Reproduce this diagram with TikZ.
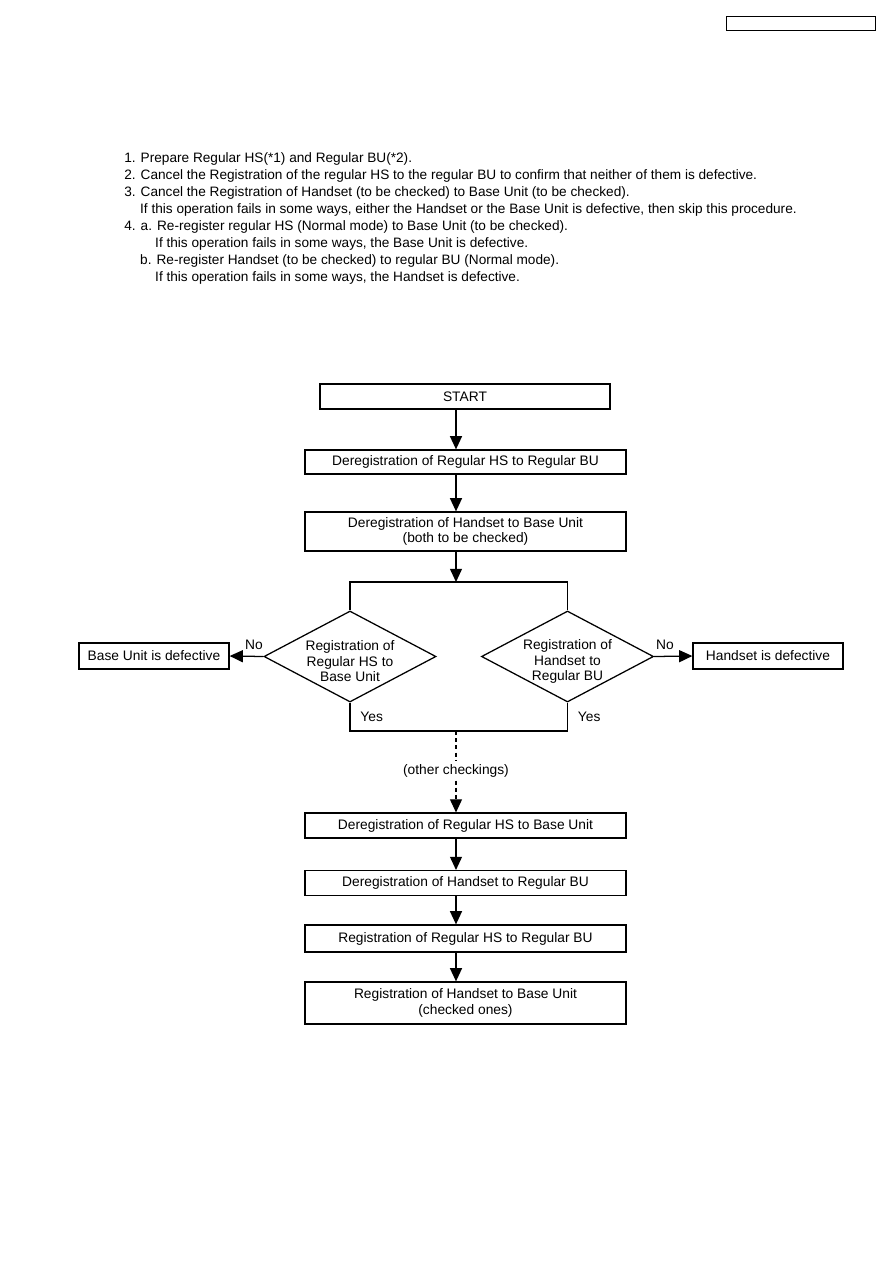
\documentclass[tikz,border=0pt]{standalone}
\usepackage{fontspec}
\setmainfont{Liberation Sans}
\usetikzlibrary{arrows.meta,positioning,shapes.geometric}
\tikzset{
  flowBox/.style={draw, line width=0.9pt, align=center, inner sep=0pt, minimum width=8.025cm, minimum height=0.62cm, font=\fontsize{9.8}{10.8}\selectfont},
  endBox/.style={flowBox, minimum width=3.75cm, minimum height=0.65cm},
  checkDiamond/.style={draw, line width=0.9pt, shape=diamond, aspect=1.9, inner xsep=0pt, inner ysep=-0.125cm, minimum width=4.3cm, minimum height=2.275cm, align=center, font=\fontsize{9.8}{11}\selectfont},
  flowArrow/.style={-{Triangle[length=3.3mm, width=3mm]}, line width=0.9pt},
  flowLine/.style={line width=0.9pt},
  flowLabel/.style={font=\fontsize{9.8}{11}\selectfont, inner sep=2pt}
}
\begin{document}
\begin{tikzpicture}[x=0.025cm, y=-0.025cm]
  \useasboundingbox (0,0) rectangle (893,1263);
  \node[draw, line width=0.7pt, minimum width=3.7cm, minimum height=0.35cm, inner sep=0pt] (pageTag) at (801,23) {};
  \node[anchor=north west, inner sep=0pt, align=left, font=\fontsize{9.7}{12.1}\selectfont] (steps) at (124,152)
    {1. Prepare Regular HS(*1) and Regular BU(*2).\\
     2. Cancel the Registration of the regular HS to the regular BU to confirm that neither of them is defective.\\
     3. Cancel the Registration of Handset (to be checked) to Base Unit (to be checked).\\
     \hspace*{11.3pt}If this operation fails in some ways, either the Handset or the Base Unit is defective, then skip this procedure.\\
     4. a. Re-register regular HS (Normal mode) to Base Unit (to be checked).\\
     \hspace*{22pt}If this operation fails in some ways, the Base Unit is defective.\\
     \hspace*{11.3pt}b. Re-register Handset (to be checked) to regular BU (Normal mode).\\
     \hspace*{22pt}If this operation fails in some ways, the Handset is defective.};
  % main column
  \coordinate (axis) at (456,0);
  \node[flowBox, minimum width=7.25cm] (start) at (465,396.5) {START};
  \node[flowBox, minimum height=0.6cm] (deregHSBU) at (465.5,462) {Deregistration of Regular HS to Regular BU};
  \node[flowBox, minimum height=0.975cm] (deregHandBase) at (465.5,531.5) {Deregistration of Handset to Base Unit\\(both to be checked)};
  \node[checkDiamond] (regHS) at (350,656.5) {\rule{0pt}{0.5cm}Registration of\\Regular HS to\\Base Unit};
  \node[checkDiamond] (regHand) at (567.5,656.5) {\rule{0pt}{0.5cm}Registration of\\Handset to\\Regular BU};
  \node[endBox] (baseBad) at (154,656) {Base Unit is defective};
  \node[endBox] (handBad) at (768,656) {Handset is defective};
  \node[flowLabel] (other) at (456,771) {(other checkings)};
  \node[flowBox] (deregHSBase) at (465.5,825.5) {Deregistration of Regular HS to Base Unit};
  \node[flowBox] (deregHandBU) at (465.5,883) {Deregistration of Handset to Regular BU};
  \node[flowBox, minimum height=0.675cm] (regHSBU) at (465.5,938.5) {Registration of Regular HS to Regular BU};
  \node[flowBox, minimum height=1.05cm] (regHandBase) at (465.5,1003) {Registration of Handset to Base Unit\\(checked ones)};
  \coordinate (splitL) at (350,582);
  \coordinate (splitR) at (567.5,582);
  \coordinate (joinL) at (350,731);
  \coordinate (joinR) at (567.5,731);
  % connectors
  \draw[flowArrow] (start.south -| axis) -- (deregHSBU.north -| axis);
  \draw[flowArrow] (deregHSBU.south -| axis) -- (deregHandBase.north -| axis);
  \draw[flowArrow] (deregHandBase.south -| axis) -- (splitL -| axis);
  \draw[flowLine] (regHS.north) -- (splitL) -- (splitR) -- (regHand.north);
  \draw[flowArrow] (regHS.west) -- node[flowLabel, pos=0.28, above, yshift=2pt] {No} (baseBad.east);
  \draw[flowArrow] (regHand.east) -- node[flowLabel, pos=0.28, above, yshift=2pt] {No} (handBad.west);
  \draw[flowLine] (regHS.south) -- node[flowLabel, right, xshift=5pt] {Yes} (joinL) -- (joinR)
    -- node[flowLabel, right, xshift=5pt] {Yes} (regHand.south);
  \draw[flowLine, dash pattern=on 1mm off 0.8mm] (joinL -| axis) -- (other.north);
  \draw[flowArrow, dash pattern=on 1mm off 0.8mm] (other.south) -- (deregHSBase.north -| axis);
  \draw[flowArrow] (deregHSBase.south -| axis) -- (deregHandBU.north -| axis);
  \draw[flowArrow] (deregHandBU.south -| axis) -- (regHSBU.north -| axis);
  \draw[flowArrow] (regHSBU.south -| axis) -- (regHandBase.north -| axis);
\end{tikzpicture}
\end{document}
